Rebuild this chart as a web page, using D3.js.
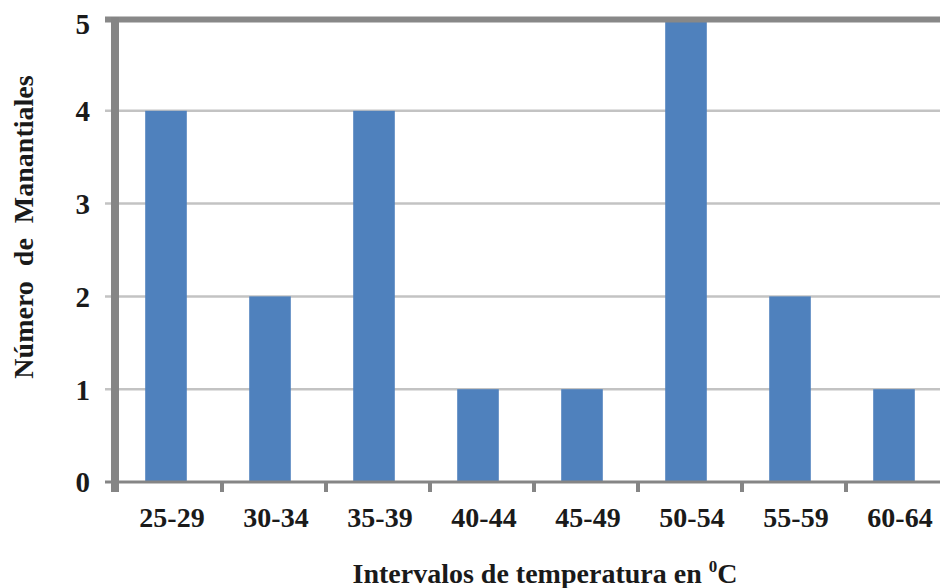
<!DOCTYPE html>
<html><head><meta charset="utf-8">
<script src="https://cdn.jsdelivr.net/npm/d3@7"></script>
<style>
html,body{margin:0;padding:0;background:#fff;overflow:hidden;}
</style></head>
<body>
<svg id="c" width="940" height="588"></svg>
<script>
const categories = ["25-29","30-34","35-39","40-44","45-49","50-54","55-59","60-64"];
const values = [4,2,4,1,1,5,2,1];
const yTicks = [0,1,2,3,4,5];
const xTitle = "Intervalos de temperatura en ";
const xTitleSup = "0";
const xTitleEnd = "C";
const yTitle = "Número de Manantiales";

const FONT = '"Liberation Serif"';
const svg = d3.select("#c");
const x = d3.scaleBand().domain(categories).range([114, 946]).paddingInner(0.6).paddingOuter(0.3);
const xb = d3.scaleBand().domain(categories).range([114, 946]);
const y = d3.scaleLinear().domain([0,5]).range([482, 18]);

function styleText(sel, size){
  return sel.attr("font-family",FONT).attr("font-weight","bold").attr("font-size",size).attr("fill","#1a1a1a");
}

// gridlines
svg.append("g").selectAll("line").data(yTicks.filter(d=>d>0 && d<5)).join("line")
  .attr("x1",105).attr("x2",940).attr("y1",d=>y(d)).attr("y2",d=>y(d))
  .attr("stroke","#c3c3c3").attr("stroke-width",2.5);

// bars
svg.append("g").selectAll("rect").data(values).join("rect")
  .attr("x",(d,i)=>x(categories[i])).attr("width",x.bandwidth())
  .attr("y",d=>y(d)).attr("height",d=>y(0)-y(d))
  .attr("fill","#4f81bd");

// top line (value 5)
svg.append("line").attr("x1",105).attr("x2",940).attr("y1",y(5)+1.5).attr("y2",y(5)+1.5)
  .attr("stroke","#888888").attr("stroke-width",6);

// baseline
svg.append("line").attr("x1",105).attr("x2",940).attr("y1",y(0)).attr("y2",y(0))
  .attr("stroke","#858585").attr("stroke-width",3);

// x tick stubs
svg.append("g").selectAll("line").data(categories.slice(1)).join("line")
  .attr("x1",d=>xb(d)+4).attr("x2",d=>xb(d)+4).attr("y1",y(0)).attr("y2",y(0)+10)
  .attr("stroke","#858585").attr("stroke-width",4);

// left axis
svg.append("line").attr("x1",115).attr("x2",115).attr("y1",y(5)-1).attr("y2",y(0)+10)
  .attr("stroke","#858585").attr("stroke-width",8);

// y tick labels
styleText(svg.append("g").selectAll("text").data(yTicks).join("text"), 29)
  .attr("x",90).attr("y",d=>y(d)).attr("dy",d=>d===5?"0.55em":"0.36em")
  .attr("text-anchor","end").text(d=>d);

// x labels
styleText(svg.append("g").selectAll("text").data(categories).join("text"), 28)
  .attr("x",d=>xb(d)+xb.bandwidth()/2+6).attr("y",527)
  .attr("text-anchor","middle").text(d=>d);

// x title
const xt = styleText(svg.append("text"), 28).attr("x",545).attr("y",583).attr("text-anchor","middle");
xt.append("tspan").text(xTitle);
xt.append("tspan").attr("font-size",17).attr("dy",-11).text(xTitleSup);
xt.append("tspan").attr("dy",11).text(xTitleEnd);

// y title
styleText(svg.append("text"), 28).attr("transform","translate(33,227) rotate(-90)")
  .attr("text-anchor","middle").attr("word-spacing",8).text(yTitle);
</script>
</body></html>
